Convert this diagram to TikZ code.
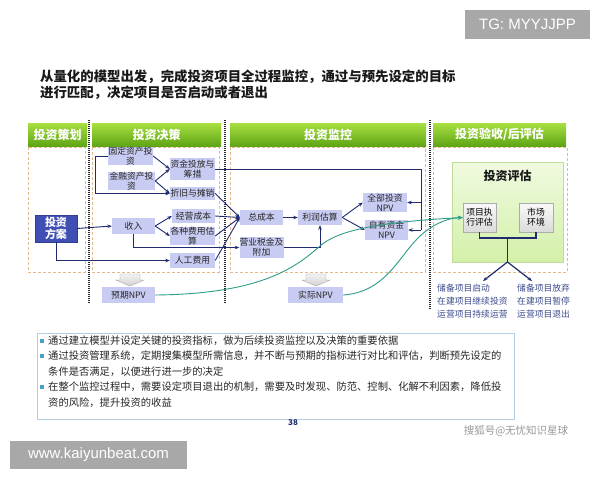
\documentclass[tikz,border=0pt]{standalone}
\usepackage{fontspec}
\setmainfont{Noto Sans CJK SC}
\newfontfamily\latinsans{Liberation Sans}
\usetikzlibrary{arrows.meta,calc,shadings}
\definecolor{navyc}{HTML}{1F2B6E}
\definecolor{lavc}{HTML}{C9CCF2}
\definecolor{tealc}{HTML}{2E9C8A}
\definecolor{dashc}{HTML}{E3B98C}
\definecolor{greentop}{HTML}{A8E040}
\definecolor{greenbot}{HTML}{5FA516}
\definecolor{planc}{HTML}{3F4FB3}
\definecolor{bulletc}{HTML}{4AA0C8}
\definecolor{bboxc}{HTML}{B3CFE2}
\definecolor{outc}{HTML}{3D4C8C}
\definecolor{wmark}{HTML}{A8A8A8}
\definecolor{evtop}{HTML}{F0FAE0}
\definecolor{evbot}{HTML}{D3F0A8}
\definecolor{evline}{HTML}{BFDC98}
\begin{document}
\begin{tikzpicture}[x=1pt,y=-1pt,
  box/.style={fill=lavc, inner sep=0pt, align=center, text=black!85,
    font=\fontsize{8.8}{9.8}\selectfont},
  hdr/.style={top color=greentop, bottom color=greenbot, draw=none, minimum height=23pt,
    inner sep=0pt, text=white, font=\fontsize{12}{13}\selectfont\bfseries},
  dashbox/.style={draw=dashc, dash pattern=on 3pt off 2pt, line width=0.8pt},
  sep/.style={draw=black!85, line width=1.5pt, dash pattern=on 1pt off 1pt},
  nav/.style={draw=navyc, line width=0.9pt},
  navarr/.style={nav, -{Stealth[length=4.5pt,width=3.5pt]}},
  tealarr/.style={draw=tealc, line width=0.9pt, -{Stealth[length=5pt,width=4pt]}},
  evalbox/.style={top color=gray!5, bottom color=gray!28, draw=gray!65,
    inner sep=0pt, align=center, font=\fontsize{8.8}{10}\selectfont},
  outtxt/.style={anchor=west, inner sep=0pt, text=outc, font=\fontsize{8.8}{10}\selectfont},
  btxt/.style={anchor=west, inner sep=0pt, text=black!85, font=\fontsize{10.3}{12}\selectfont},
  bullet/.style={fill=bulletc, inner sep=0pt, minimum size=4pt},
  blockarr/.pic={\draw[draw=gray!70, top color=gray!10, bottom color=gray!35]
     (-10,0) -- (10,0) -- (10,6) -- (14,6) -- (0,12) -- (-14,6) -- (-10,6) -- cycle;}
]
\useasboundingbox (0,0) rectangle (600,480);
\fill[white] (0,0) rectangle (600,480);

% watermarks
\node[fill=wmark, minimum width=125pt, minimum height=29pt, inner sep=0pt, text=white,
  font=\latinsans\fontsize{15}{16}\selectfont] (tg) at (527.5,24.5) {TG: MYYJJPP};
\node[fill=wmark, minimum width=177pt, minimum height=28pt, inner sep=0pt, text=white,
  font=\latinsans\fontsize{15}{16}\selectfont] (www) at (98.5,455) {www.kaiyunbeat.com};

% title
\node[anchor=west, inner sep=0pt, font=\fontsize{13.4}{15}\selectfont\bfseries, text=black!90]
  (t1) at (40,77) {从量化的模型出发，完成投资项目全过程监控，通过与预先设定的目标};
\node[anchor=west, inner sep=0pt, font=\fontsize{13.4}{15}\selectfont\bfseries, text=black!90]
  (t2) at (40,93) {进行匹配，决定项目是否启动或者退出};

% headers
\node[hdr, minimum width=59pt] (h1) at (57.5,134.5) {投资策划};
\node[hdr, minimum width=129pt] (h2) at (156.5,134.5) {投资决策};
\node[hdr, minimum width=196pt] (h3) at (328,134.5) {投资监控};
\node[hdr, minimum width=133pt] (h4) at (499.5,134.5) {投资验收/后评估};

% dashed areas
\draw[dashbox] (28,147) rectangle (85,272);
\draw[dashbox] (92,147) rectangle (219,272);
\draw[dashbox] (230,147) rectangle (425,272);
\draw[dashbox] (433,147) rectangle (567,272);

% separators
\draw[sep] (89,120) -- (89,303);
\draw[sep] (225,120) -- (225,303);
\draw[sep] (430,120) -- (430,310);

% evaluation area
\draw[top color=evtop, bottom color=evbot, draw=evline, line width=0.8pt]
  (452,162) rectangle (563,262);
\node[font=\fontsize{12}{13}\selectfont\bfseries, text=black!90] (evt) at (507.5,176) {投资评估};
\node[evalbox, minimum width=33pt, minimum height=29pt] (exec) at (479.5,217.5) {项目执\\行评估};
\node[evalbox, minimum width=34pt, minimum height=29pt] (market) at (536,217.5) {市场\\环境};

% decision boxes
\node[box, minimum width=45pt, minimum height=18pt] (fixed) at (130.5,156) {固定资产投\\资};
\node[box, minimum width=47pt, minimum height=18pt] (fin) at (131.5,181) {金融资产投\\资};
\node[box, minimum width=45pt, minimum height=22pt] (fund) at (192.5,169) {资金投放与\\筹措};
\node[box, minimum width=45pt, minimum height=13pt] (depr) at (192.5,193.5) {折旧与摊销};
\node[box, minimum width=43pt, minimum height=14pt] (opcost) at (193.5,216) {经营成本};
\node[box, minimum width=45pt, minimum height=18pt] (fees) at (192.5,236) {各种费用估\\算};
\node[box, minimum width=45pt, minimum height=15pt] (labor) at (192.5,260.5) {人工费用};
\node[box, minimum width=43pt, minimum height=16pt] (income) at (133.5,226) {收入};
\node[fill=planc, draw=planc!80!black, minimum width=42pt, minimum height=27pt, inner sep=0pt,
  align=center, text=white, font=\fontsize{11}{12.5}\selectfont\bfseries] (plan) at (56,228.5) {投资\\方案};
\node[box, minimum width=53pt, minimum height=16pt] (expnpv) at (128.5,295) {预期NPV};

% monitoring boxes
\node[box, minimum width=43pt, minimum height=15pt] (total) at (261.5,217.5) {总成本};
\node[box, minimum width=43pt, minimum height=21pt] (tax) at (261.5,247.5) {营业税金及\\附加};
\node[box, minimum width=44pt, minimum height=15pt] (profit) at (320,217.5) {利润估算};
\node[box, minimum width=44pt, minimum height=19pt] (allnpv) at (385,202.5) {全部投资\\NPV};
\node[box, minimum width=43pt, minimum height=20pt] (ownnpv) at (386.5,230) {自有资金\\NPV};
\node[box, minimum width=55pt, minimum height=16pt] (actnpv) at (315.5,295) {实际NPV};

% block arrows
\pic at (130,274) {blockarr};
\pic at (316,274) {blockarr};

% connectors: decision
\draw[navarr] (fixed.west) -- ++(-12,0) |- (depr.west);
\draw[navarr] (fixed.east) -- (fund.west);
\draw[navarr] (fin.east) -- (fund.west);
\draw[navarr] (fin.east) -- (depr.west);
\draw[navarr] (plan.east) -- (income.west);
\draw[navarr] (plan.south) |- (labor.west);
\draw[navarr] (income.east) -- (opcost.west);
\draw[navarr] (income.east) -- (fees.west);
\draw[navarr] (income.south) |- (tax.west);

% connectors: to total cost
\draw[navarr] (depr.east) -- (total.west);
\draw[navarr] (opcost.east) -- (total.west);
\draw[navarr] (fees.east) -- (total.west);
\draw[navarr] (labor.east) -- (total.west);
\draw[navarr] (total.east) -- (profit.west);
\draw[navarr] (tax.east) -| (profit.south);
\draw[navarr] (profit.east) -- (allnpv.west);
\draw[navarr] (profit.east) -- (ownnpv.west);

% long line from fund
\coordinate (rt) at (421,169);
\coordinate (rb) at (421,230);
\draw[nav] (fund.east) -- (rt) -- (rb);
\draw[navarr] (rb) -- (ownnpv.east);
\draw[navarr] (rt |- allnpv.east) -- (allnpv.east);

% teal curves
\draw[tealarr] (expnpv.east) .. controls (265,294) and (298,265) .. (320,246)
   .. controls (338,230) and (380,222) .. (exec.west);
\draw[tealarr] (actnpv.east) .. controls (385,292) and (398,258) .. (418,238)
   .. controls (432,224) and (448,218) .. (exec.west);

% evaluation bracket
\coordinate (bl) at (479.5,238);
\coordinate (br) at (536,238);
\coordinate (bc) at (507.5,238);
\coordinate (bd) at (507.5,262);
\coordinate (ol) at (483,281);
\coordinate (or) at (532,281);
\draw[nav, line width=1.2pt] (exec.south) -- (bl) -- (br) -- (market.south);
\draw[nav, line width=1.2pt] (bc) -- (bd);
\draw[navarr, line width=1.2pt] (bd) -- (ol);
\draw[navarr, line width=1.2pt] (bd) -- (or);

\node[outtxt] (o1) at (437,288) {储备项目启动};
\node[outtxt] (o2) at (437,301) {在建项目继续投资};
\node[outtxt] (o3) at (437,314) {运营项目持续运营};
\node[outtxt] (o4) at (517,288) {储备项目放弃};
\node[outtxt] (o5) at (517,301) {在建项目暂停};
\node[outtxt] (o6) at (517,314) {运营项目退出};

% bottom box
\draw[draw=bboxc, line width=0.8pt] (37,333) rectangle (514,419);
\node[bullet] (b1) at (42,341) {};
\node[bullet] (b2) at (42,356) {};
\node[bullet] (b3) at (42,387) {};
\node[btxt] (l1) at (48,341) {通过建立模型并设定关键的投资指标，做为后续投资监控以及决策的重要依据};
\node[btxt] (l2) at (48,356) {通过投资管理系统，定期搜集模型所需信息，并不断与预期的指标进行对比和评估，判断预先设定的};
\node[btxt] (l3) at (48,371.5) {条件是否满足，以便进行进一步的决定};
\node[btxt] (l4) at (48,387) {在整个监控过程中，需要设定项目退出的机制，需要及时发现、防范、控制、化解不利因素，降低投};
\node[btxt] (l5) at (48,402.5) {资的风险，提升投资的收益};

\node[font=\fontsize{8}{9}\selectfont\bfseries, text=navyc] (pg) at (293,423) {38};
\node[font=\fontsize{10.5}{12}\selectfont, text=gray!80] (sohu) at (516,431) {搜狐号@无忧知识星球};
\end{tikzpicture}
\end{document}
